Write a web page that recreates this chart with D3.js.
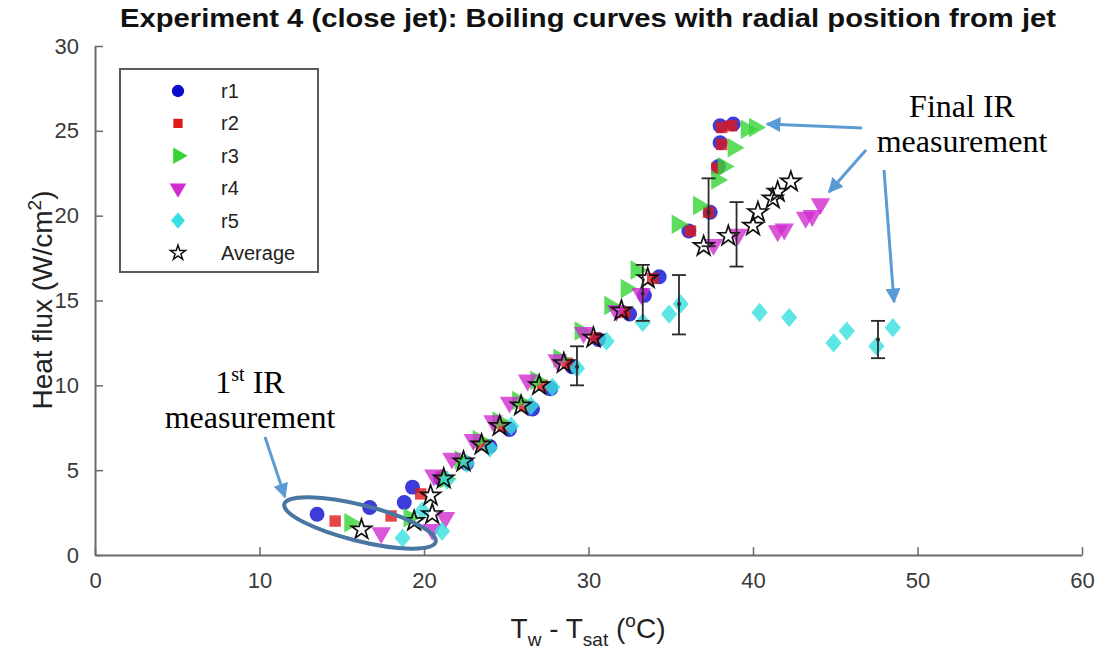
<!DOCTYPE html>
<html>
<head>
<meta charset="utf-8">
<script src="https://cdn.jsdelivr.net/npm/d3@7"></script>
<style>
  html, body { margin: 0; padding: 0; background: #fff; }
  svg { display: block; }
</style>
</head>
<body>
<svg id="chart" width="1104" height="653"></svg>
<script>
// Boiling curves: wall superheat vs heat flux at five radial positions
const seriesNames = ["r1", "r2", "r3", "r4", "r5", "Average"];

const r1 = [[13.5,2.4],[16.7,2.8],[18.8,3.1],[19.3,4.0],[21.0,4.5],[22.6,5.4],[24.0,6.4],[25.2,7.4],[26.6,8.6],[27.7,9.8],[29.0,11.1],[30.6,12.7],[32.5,14.2],[33.4,15.3],[34.3,16.4],[36.1,19.1],[37.4,20.2],[37.9,22.9],[38.0,24.3],[38.0,25.3],[38.8,25.4]];
const r2 = [[14.6,2.0],[18.0,2.3],[19.8,3.6],[21.1,4.6],[22.4,5.5],[23.6,6.5],[24.8,7.6],[26.1,8.8],[27.2,10.0],[28.7,11.3],[30.4,12.8],[32.2,14.3],[33.9,16.3],[36.2,19.1],[37.3,20.2],[37.8,22.8],[38.1,24.2],[38.1,25.2],[38.7,25.3]];
const r3 = [[15.5,1.9],[19.1,2.2],[21.3,4.5],[22.2,5.6],[23.3,6.8],[24.5,7.9],[25.7,9.1],[26.8,10.3],[28.2,11.6],[29.5,13.2],[31.3,14.7],[32.3,15.7],[32.9,16.8],[35.4,19.5],[36.7,20.6],[37.8,22.1],[38.2,22.9],[38.8,24.0],[39.6,25.1],[40.1,25.2]];
const r4 = [[17.4,1.3],[20.5,1.5],[21.3,2.2],[20.6,4.7],[21.7,5.7],[23.0,6.8],[24.2,7.9],[25.2,9.0],[26.3,10.3],[28.1,11.5],[29.7,13.1],[31.7,14.4],[33.2,15.4],[37.6,18.3],[39.1,18.9],[41.5,19.1],[41.9,19.2],[43.2,19.9],[43.6,20.0],[44.1,20.7]];
const r5 = [[18.7,1.0],[21.1,1.4],[19.9,2.6],[21.4,4.4],[22.6,5.4],[24.0,6.3],[25.3,7.6],[26.5,8.8],[27.8,9.9],[29.3,11.0],[31.1,12.6],[33.3,13.7],[34.9,14.2],[35.6,14.8],[40.4,14.3],[42.2,14.0],[44.9,12.5],[45.7,13.2],[47.5,12.3],[48.5,13.4]];
const avg = [[16.2,1.5],[19.4,2.0],[20.5,2.4],[20.4,3.5],[21.2,4.5],[22.4,5.5],[23.5,6.5],[24.6,7.6],[25.9,8.8],[27.0,10.0],[28.5,11.3],[30.3,12.8],[32.0,14.4],[33.6,16.3],[37.0,18.2],[38.5,18.8],[40.0,19.4],[40.3,20.2],[41.2,21.0],[41.5,21.4],[42.3,22.0]];

// Error bars: [x, centre, low, high]
const errorBars = [[29.3,11.1,10.0,12.3],[33.3,15.4,13.8,17.1],[35.5,14.8,13.0,16.5],[37.3,20.2,18.2,22.2],[39.0,18.9,17.0,20.8],[47.6,12.7,11.6,13.8]];

const xTicks = [0, 10, 20, 30, 40, 50, 60];
const yTicks = [0, 5, 10, 15, 20, 25, 30];

const svg = d3.select("#chart");
const x = d3.scaleLinear().domain([0, 60]).range([95, 1082]);
const y = d3.scaleLinear().domain([0, 30]).range([555, 46]);

// MATLAB-like diamond (wider than d3's default)
const wideDiamond = {
  draw(ctx, size) {
    const h = Math.sqrt(size) * 0.78, w = h * 0.85;
    ctx.moveTo(0, -h); ctx.lineTo(w, 0); ctx.lineTo(0, h); ctx.lineTo(-w, 0); ctx.closePath();
  }
};

const styles = [
  { data: r1, color: "#0b0bd0", shape: d3.symbolCircle, size: 175, rot: 0 },
  { data: r2, color: "#e01818", shape: d3.symbolSquare, size: 130, rot: 0 },
  { data: r3, color: "#36d336", shape: d3.symbolTriangle, size: 165, rot: 90 },
  { data: r4, color: "#d02cd0", shape: d3.symbolTriangle, size: 165, rot: 180 },
  { data: r5, color: "#36e0e0", shape: wideDiamond, size: 150, rot: 0 },
  { data: avg, color: "#111", shape: d3.symbolStar, size: 125, rot: 0, hollow: true }
];

// Axes (ticks pointing inwards, no box)
const axisColor = "#6b6b6b";
const sans = "Liberation Sans, Arial, sans-serif";
const xAxis = d3.axisBottom(x).tickValues(xTicks).tickSizeInner(-8).tickSizeOuter(0).tickPadding(17);
const yAxis = d3.axisLeft(y).tickValues(yTicks).tickSizeInner(-8).tickSizeOuter(0).tickPadding(16);

const gx = svg.append("g").attr("transform", "translate(0,555)").call(xAxis);
const gy = svg.append("g").attr("transform", "translate(95,0)").call(yAxis);
[gx, gy].forEach(g => {
  g.select(".domain").attr("stroke", axisColor).attr("stroke-width", 2);
  g.selectAll(".tick line").attr("stroke", axisColor).attr("stroke-width", 1.5);
  g.selectAll(".tick text").attr("fill", "#3a3a3a").attr("font-family", sans).attr("font-size", 22);
});

// Markers
styles.forEach(s => {
  const sym = d3.symbol().type(s.shape).size(s.size);
  svg.append("g").selectAll("path").data(s.data).join("path")
    .attr("d", sym)
    .attr("transform", d => `translate(${x(d[0])},${y(d[1])}) rotate(${s.rot})`)
    .attr("fill", s.hollow ? "none" : s.color)
    .attr("fill-opacity", s.hollow ? null : 0.8)
    .attr("stroke", s.hollow ? s.color : "none")
    .attr("stroke-width", s.hollow ? 1.7 : 0);
});

// Error bars
const eb = svg.append("g").attr("stroke", "#2a2a2a").attr("stroke-width", 1.8);
errorBars.forEach(e => {
  const cx = x(e[0]);
  eb.append("line").attr("x1", cx).attr("x2", cx).attr("y1", y(e[2])).attr("y2", y(e[3]));
  eb.append("line").attr("x1", cx - 7).attr("x2", cx + 7).attr("y1", y(e[2])).attr("y2", y(e[2]));
  eb.append("line").attr("x1", cx - 7).attr("x2", cx + 7).attr("y1", y(e[3])).attr("y2", y(e[3]));
  eb.append("circle").attr("cx", cx).attr("cy", y(e[1])).attr("r", 2).attr("fill", "#2a2a2a").attr("stroke", "none");
});

// Title and axis labels
svg.append("text").attr("x", 588).attr("y", 27).attr("text-anchor", "middle")
  .attr("font-family", sans).attr("font-weight", "bold").attr("font-size", 26).attr("fill", "#111")
  .attr("textLength", 936).attr("lengthAdjust", "spacingAndGlyphs")
  .text("Experiment 4 (close jet): Boiling curves with radial position from jet");

const yl = svg.append("text").attr("transform", "translate(52,300) rotate(-90)").attr("text-anchor", "middle")
  .attr("font-family", sans).attr("font-size", 28).attr("fill", "#222");
yl.append("tspan").text("Heat flux (W/cm");
yl.append("tspan").attr("dy", -11).attr("font-size", 19).text("2");
yl.append("tspan").attr("dy", 11).text(")");

const xl = svg.append("text").attr("x", 588).attr("y", 638).attr("text-anchor", "middle")
  .attr("font-family", sans).attr("font-size", 28).attr("fill", "#222");
xl.append("tspan").text("T");
xl.append("tspan").attr("dy", 8).attr("font-size", 19).text("w");
xl.append("tspan").attr("dy", -8).text(" - T");
xl.append("tspan").attr("dy", 8).attr("font-size", 19).text("sat");
xl.append("tspan").attr("dy", -8).text(" (");
xl.append("tspan").attr("dy", -11).attr("font-size", 19).text("o");
xl.append("tspan").attr("dy", 11).text("C)");

// Legend
const lg = svg.append("g");
lg.append("rect").attr("x", 120).attr("y", 69).attr("width", 198).attr("height", 203)
  .attr("fill", "#fff").attr("stroke", "#5a5a5a").attr("stroke-width", 2);
const legendSizes = [120, 85, 120, 120, 110, 70];
styles.forEach((s, i) => {
  const ly = 91 + i * 32.4;
  lg.append("path").attr("d", d3.symbol().type(s.shape).size(legendSizes[i]))
    .attr("transform", `translate(178,${ly}) rotate(${s.rot})`)
    .attr("fill", s.hollow ? "none" : s.color)
    .attr("stroke", s.hollow ? s.color : "none").attr("stroke-width", 1.5);
  lg.append("text").attr("x", 221).attr("y", ly + 7).attr("font-family", sans).attr("font-size", 20)
    .attr("fill", "#222").text(seriesNames[i]);
});

// Annotations
const arrowColor = "#5b9bd5";
svg.append("defs").append("marker").attr("id", "head").attr("viewBox", "0 0 10 10")
  .attr("refX", 9).attr("refY", 5).attr("markerWidth", 5).attr("markerHeight", 5)
  .attr("markerUnits", "strokeWidth").attr("orient", "auto")
  .append("path").attr("d", "M0,0 L10,5 L0,10 Z").attr("fill", arrowColor);

const arrows = [[265, 437, 285, 497], [862, 128, 767, 124], [866, 150, 829, 192], [884, 170, 894, 302]];
svg.append("g").selectAll("line").data(arrows).join("line")
  .attr("x1", d => d[0]).attr("y1", d => d[1]).attr("x2", d => d[2]).attr("y2", d => d[3])
  .attr("stroke", arrowColor).attr("stroke-width", 3).attr("marker-end", "url(#head)");

svg.append("ellipse").attr("cx", 360).attr("cy", 523).attr("rx", 78).attr("ry", 18)
  .attr("transform", "rotate(14,360,523)").attr("fill", "none")
  .attr("stroke", "#4a76a3").attr("stroke-width", 4);

const serif = "Liberation Serif, Times New Roman, serif";
const a1 = svg.append("text").attr("x", 250).attr("y", 393).attr("text-anchor", "middle")
  .attr("font-family", serif).attr("font-size", 32).attr("fill", "#000");
a1.append("tspan").text("1");
a1.append("tspan").attr("dy", -12).attr("font-size", 20).text("st");
a1.append("tspan").attr("dy", 12).text(" IR");
svg.append("text").attr("x", 250).attr("y", 428).attr("text-anchor", "middle")
  .attr("font-family", serif).attr("font-size", 32).attr("fill", "#000").text("measurement");

svg.append("text").attr("x", 962).attr("y", 117).attr("text-anchor", "middle")
  .attr("font-family", serif).attr("font-size", 32).attr("fill", "#000").text("Final IR");
svg.append("text").attr("x", 962).attr("y", 152).attr("text-anchor", "middle")
  .attr("font-family", serif).attr("font-size", 32).attr("fill", "#000").text("measurement");
</script>
</body>
</html>
